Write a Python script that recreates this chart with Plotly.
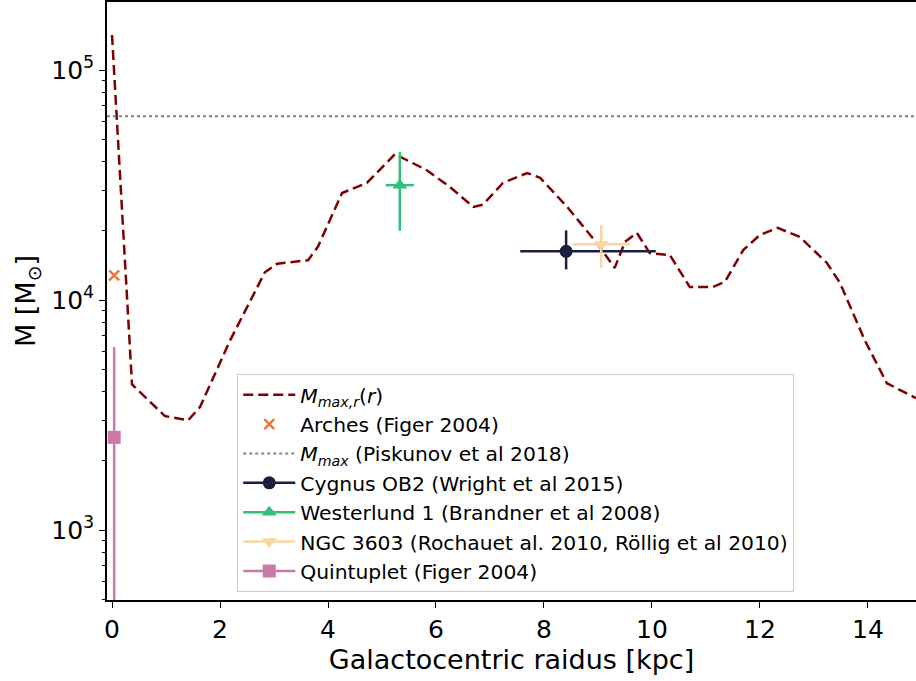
import plotly.graph_objects as go

# M_max,r(r) curve
radius_kpc = [0.0, 0.37, 0.98, 1.41, 1.63, 2.19, 2.83, 3.06, 3.63, 3.81, 4.26, 4.72,
              5.24, 5.83, 6.26, 6.69, 6.87, 7.24, 7.69, 7.93, 8.43, 8.98, 9.31, 9.5,
              9.72, 9.96, 10.33, 10.7, 11.13, 11.35, 11.69, 12.0, 12.33, 12.74, 13.24,
              13.48, 13.94, 14.35, 14.89]
m_max_r = [1.42e5, 4300, 3130, 3000, 3430, 6700, 13200, 14400, 14900, 17000, 29200,
           32300, 43100, 36700, 31000, 25400, 26000, 32300, 35700, 34000, 25400, 17700,
           13800, 17900, 19600, 16000, 15700, 11400, 11400, 12000, 16500, 19200, 20600,
           18800, 14500, 11900, 6700, 4350, 3750]

# Piskunov et al 2018 maximum
m_max_piskunov = 6.3e4

# clusters: x, y, x-err (minus, plus), y-err (minus, plus)
arches = dict(r=0.04, m=12800)
cygnus = dict(r=8.41, m=16300, rm=0.85, rp=1.66, mm=2700, mp=3800)
westerlund = dict(r=5.33, m=31600, rm=0.26, rp=0.26, mm=11600, mp=12400)
ngc3603 = dict(r=9.06, m=17500, rm=0.53, rp=0.53, mm=3700, mp=3700)
quintuplet = dict(r=0.04, m=2530, rm=0.0, rp=0.0, mm=2500, mp=3720)

x_range = [-0.093, 14.89]
y_range_log = [2.696, 5.296]

fig = go.Figure()

fig.add_trace(go.Scatter(
    x=radius_kpc, y=m_max_r, mode="lines",
    line=dict(color="#7f0000", width=2.5, dash="10px,5px"),
    name="<i>M</i><sub><i>max,r</i></sub>(<i>r</i>)",
))

fig.add_trace(go.Scatter(
    x=[arches["r"]], y=[arches["m"]], mode="markers",
    marker=dict(symbol="x-thin", size=10, line=dict(color="#e8793a", width=2.5)),
    name="Arches (Figer 2004)",
))

fig.add_trace(go.Scatter(
    x=x_range, y=[m_max_piskunov, m_max_piskunov], mode="lines",
    line=dict(color="#808080", width=2, dash="dot"),
    name="<i>M</i><sub><i>max</i></sub> (Piskunov et al 2018)",
))


def cluster(c, color, symbol, size, name):
    return go.Scatter(
        x=[c["r"]], y=[c["m"]], mode="lines+markers",
        line=dict(color=color, width=2.5),
        marker=dict(symbol=symbol, size=size, color=color),
        error_x=dict(type="data", symmetric=False, array=[c["rp"]], arrayminus=[c["rm"]],
                     color=color, thickness=2.5, width=0),
        error_y=dict(type="data", symmetric=False, array=[c["mp"]], arrayminus=[c["mm"]],
                     color=color, thickness=2.5, width=0),
        name=name,
    )


fig.add_trace(cluster(cygnus, "#1b1e3d", "circle", 13, "Cygnus OB2 (Wright et al 2015)"))
fig.add_trace(cluster(westerlund, "#30c07a", "triangle-up", 13, "Westerlund 1 (Brandner et al 2008)"))
fig.add_trace(cluster(ngc3603, "#f9d6a2", "triangle-down", 13,
                      "NGC 3603 (Rochauet al. 2010, Röllig et al 2010)"))
fig.add_trace(cluster(quintuplet, "#cc79a7", "square", 13, "Quintuplet (Figer 2004)"))

minor_vals = [m * 10 ** e for e in range(2, 6) for m in range(2, 10)]

fig.update_layout(
    width=916, height=681,
    margin=dict(l=107, r=0, t=2, b=81),
    plot_bgcolor="white", paper_bgcolor="white",
    font=dict(family="DejaVu Sans", color="black"),
    showlegend=True,
    legend=dict(
        x=0.161, y=0.378, xanchor="left", yanchor="top",
        bgcolor="rgba(255,255,255,0.8)", bordercolor="#cccccc", borderwidth=1,
        font=dict(size=20.3), tracegroupgap=0, itemwidth=52,
    ),
    xaxis=dict(
        range=x_range, showgrid=False, zeroline=False, automargin=False,
        showline=True, linecolor="black", linewidth=1.5, mirror=True,
        ticks="outside", ticklen=6, tickwidth=1.2, tickcolor="black",
        tickvals=[0, 2, 4, 6, 8, 10, 12, 14], tickfont=dict(size=25),
        title=dict(text="Galactocentric raidus [kpc]", font=dict(size=27), standoff=6),
    ),
    yaxis=dict(
        type="log", range=y_range_log, showgrid=False, zeroline=False, automargin=False,
        showline=True, linecolor="black", linewidth=1.5,
        ticks="outside", ticklen=6, tickwidth=1.2, tickcolor="black",
        tickvals=[1e3, 1e4, 1e5],
        ticktext=["10<sup>3</sup>", "10<sup>4</sup>", "10<sup>5</sup>"],
        tickfont=dict(size=25),
        minor=dict(tickvals=minor_vals, ticks="outside", ticklen=3.5, tickwidth=1,
                   tickcolor="black", showgrid=False),
        title=dict(text="M [M<sub>⊙</sub>]", font=dict(size=27), standoff=8),
    ),
)

for i, tr in enumerate(fig.data):
    tr.legendgroup = f"g{i}"

fig.write_html("out.html", config={"displayModeBar": False},
               post_script="document.body.style.margin = '0';")
